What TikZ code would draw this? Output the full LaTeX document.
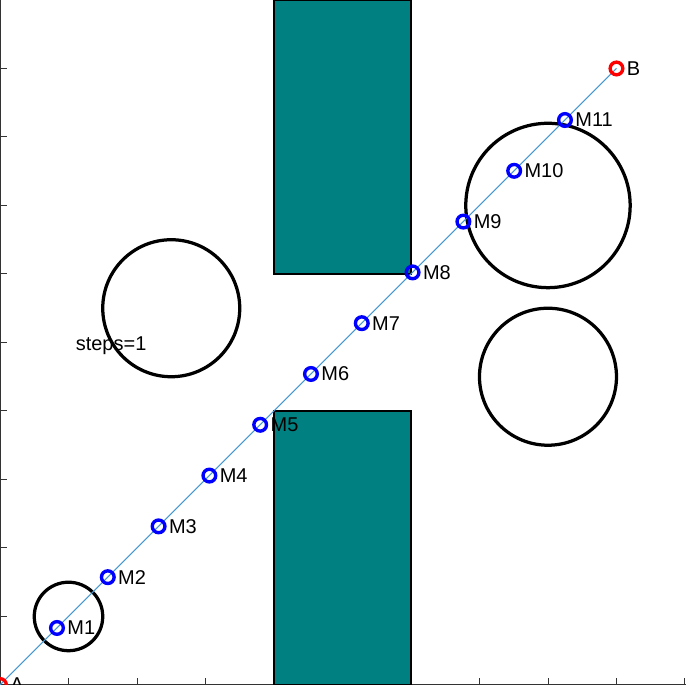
\documentclass[tikz,border=0pt]{standalone}
\usepackage{fontspec}
\setsansfont{Liberation Sans}
\definecolor{obstacle}{RGB}{0,128,128}
\definecolor{pathline}{RGB}{70,150,210}

\begin{document}
\begin{tikzpicture}[obs/.style={black,line width=1.35pt},
    marker/.style={circle,draw,line width=1.4pt,minimum size=1.85mm,inner sep=0pt},
    every node/.append style={font=\sffamily\fontsize{8.3}{9}\selectfont},
    every label/.style={inner sep=0pt}]
  \useasboundingbox (0,0) rectangle (10.015,10);
  % axes and ticks
  \draw[black!80,line width=.4pt] (0,10) -- (0,0) -- (10.015,0);
  \foreach \t in {1,...,10} {
    \draw[black!80,line width=.4pt] (\t,0) -- (\t,.1);
    \draw[black!80,line width=.4pt] (0,\t) -- (.1,\t);
  }
  % walls
  \filldraw[fill=obstacle,draw=black,line width=.5pt] (4,6) rectangle (6,10);
  \filldraw[fill=obstacle,draw=black,line width=.5pt] (4,0) rectangle (6,4);
  % round obstacles
  \node[anchor=west,inner sep=0pt] (steps) at (1.1,4.96) {steps=1};
  \draw[obs] (2.5,5.5) circle (1);
  \draw[obs] (1,1) circle (.5);
  \draw[obs] (8,7) circle (1.2);
  \draw[obs] (8,4.5) circle (1);

  \coordinate (A) at (0,0);
  \coordinate (B) at (9,9);
  \draw[pathline,line width=.45pt] (A) -- (B);
  \foreach \k in {1,...,11} {
    \pgfmathsetmacro{\p}{0.832+(\k-1)*0.7416}
    \node[marker,blue,label={[label distance=0.8pt,text=black]right:M\k}] (M\k) at (\p,\p) {};
  }
  \node[marker,red,label={[label distance=0.8pt,text=black]right:A}] (start) at (A) {};
  \node[marker,red,label={[label distance=0.8pt,text=black]right:B}] (goal) at (B) {};
\end{tikzpicture}
\end{document}
